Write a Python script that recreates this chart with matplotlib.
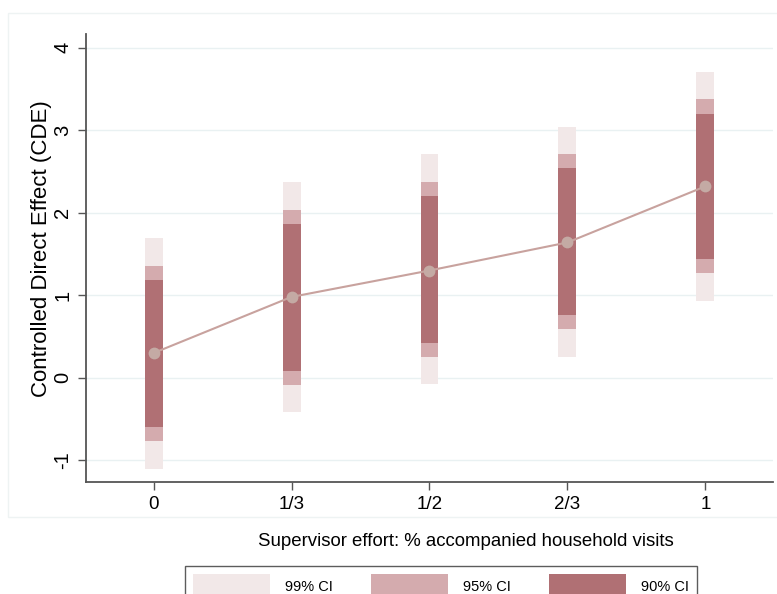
import numpy as np
import matplotlib
matplotlib.use('Agg')
import matplotlib.pyplot as plt
from matplotlib.patches import Patch, Rectangle

plt.rcParams['font.family'] = ['Liberation Sans', 'DejaVu Sans']

# Data
categories = ['0', '1/3', '1/2', '2/3', '1']
cde = [0.30, 0.98, 1.30, 1.64, 2.32]
ci90_lo = [-0.60, 0.08, 0.42, 0.76, 1.44]
ci90_hi = [1.18, 1.86, 2.20, 2.54, 3.20]
ci95_lo = [-0.77, -0.09, 0.25, 0.59, 1.27]
ci95_hi = [1.35, 2.03, 2.37, 2.71, 3.38]
ci99_lo = [-1.10, -0.42, -0.08, 0.25, 0.93]
ci99_hi = [1.69, 2.37, 2.71, 3.04, 3.71]
y_ticks = [-1, 0, 1, 2, 3, 4]

col99 = '#f2e8e8'
col95 = '#d4abae'
col90 = '#b07074'

fig = plt.figure(figsize=(7.77, 5.94), dpi=100)
# faint outer plot region box
fig.patches.append(Rectangle((8 / 777, 1 - 517 / 594), 1.2, 517 / 594 - 13 / 594,
                             transform=fig.transFigure, fill=False,
                             edgecolor='#eef3f3', linewidth=1))
ax = fig.add_axes([86 / 777, 1 - 482 / 594, (773 - 86) / 777, (482 - 34) / 594])

x = np.arange(len(categories))
w = 0.13
ax.bar(x, np.array(ci99_hi) - np.array(ci99_lo), bottom=ci99_lo, width=w, color=col99, zorder=2)
ax.bar(x, np.array(ci95_hi) - np.array(ci95_lo), bottom=ci95_lo, width=w, color=col95, zorder=3)
ax.bar(x, np.array(ci90_hi) - np.array(ci90_lo), bottom=ci90_lo, width=w, color=col90, zorder=4)
ax.plot(x, cde, '-', color='#c8a29e', linewidth=1.5, zorder=5)
ax.plot(x, cde, 'o', color='#c4aaa4', markersize=8.5, markeredgewidth=0, zorder=6)

ax.set_xlim(-0.49, 4.49)
ax.set_ylim(-1.263, 4.166)
ax.set_xticks(x)
ax.set_xticklabels(categories, fontsize=13.5)
ax.set_yticks(y_ticks)
ax.set_yticklabels([str(t) for t in y_ticks], fontsize=14.5, rotation=90, va='center')
for t in y_ticks:
    ax.axhline(t, color='#e9f1f2', linewidth=1, zorder=1)

for s in ('top', 'right'):
    ax.spines[s].set_visible(False)
for s in ('left', 'bottom'):
    ax.spines[s].set_color('#555555')
    ax.spines[s].set_linewidth(1.3)
ax.tick_params(axis='both', length=6, width=1, color='#555555', direction='out', pad=4)

ax.set_ylabel('Controlled Direct Effect (CDE)', fontsize=16)
ax.yaxis.set_label_coords(-0.05, 0.522)
fig.text(466 / 777, 1 - 541 / 594, 'Supervisor effort: % accompanied household visits',
         fontsize=13.4, ha='center', va='center')

handles = [Patch(facecolor=col99, edgecolor='none', label='99% CI'),
           Patch(facecolor=col95, edgecolor='none', label='95% CI'),
           Patch(facecolor=col90, edgecolor='none', label='90% CI')]
leg = fig.legend(handles=handles, loc='upper left', ncol=3, mode='expand',
                 bbox_to_anchor=(185 / 777, 1 - 566 / 594, (697 - 185) / 777, 0.0),
                 fontsize=10.5, frameon=True, fancybox=False, handlelength=5.3,
                 handleheight=2.2, handletextpad=1.0, columnspacing=2.0,
                 borderpad=0.55, borderaxespad=0)
leg.get_frame().set_edgecolor('#333333')
leg.get_frame().set_linewidth(1)

fig.savefig('out.png', dpi=100)
